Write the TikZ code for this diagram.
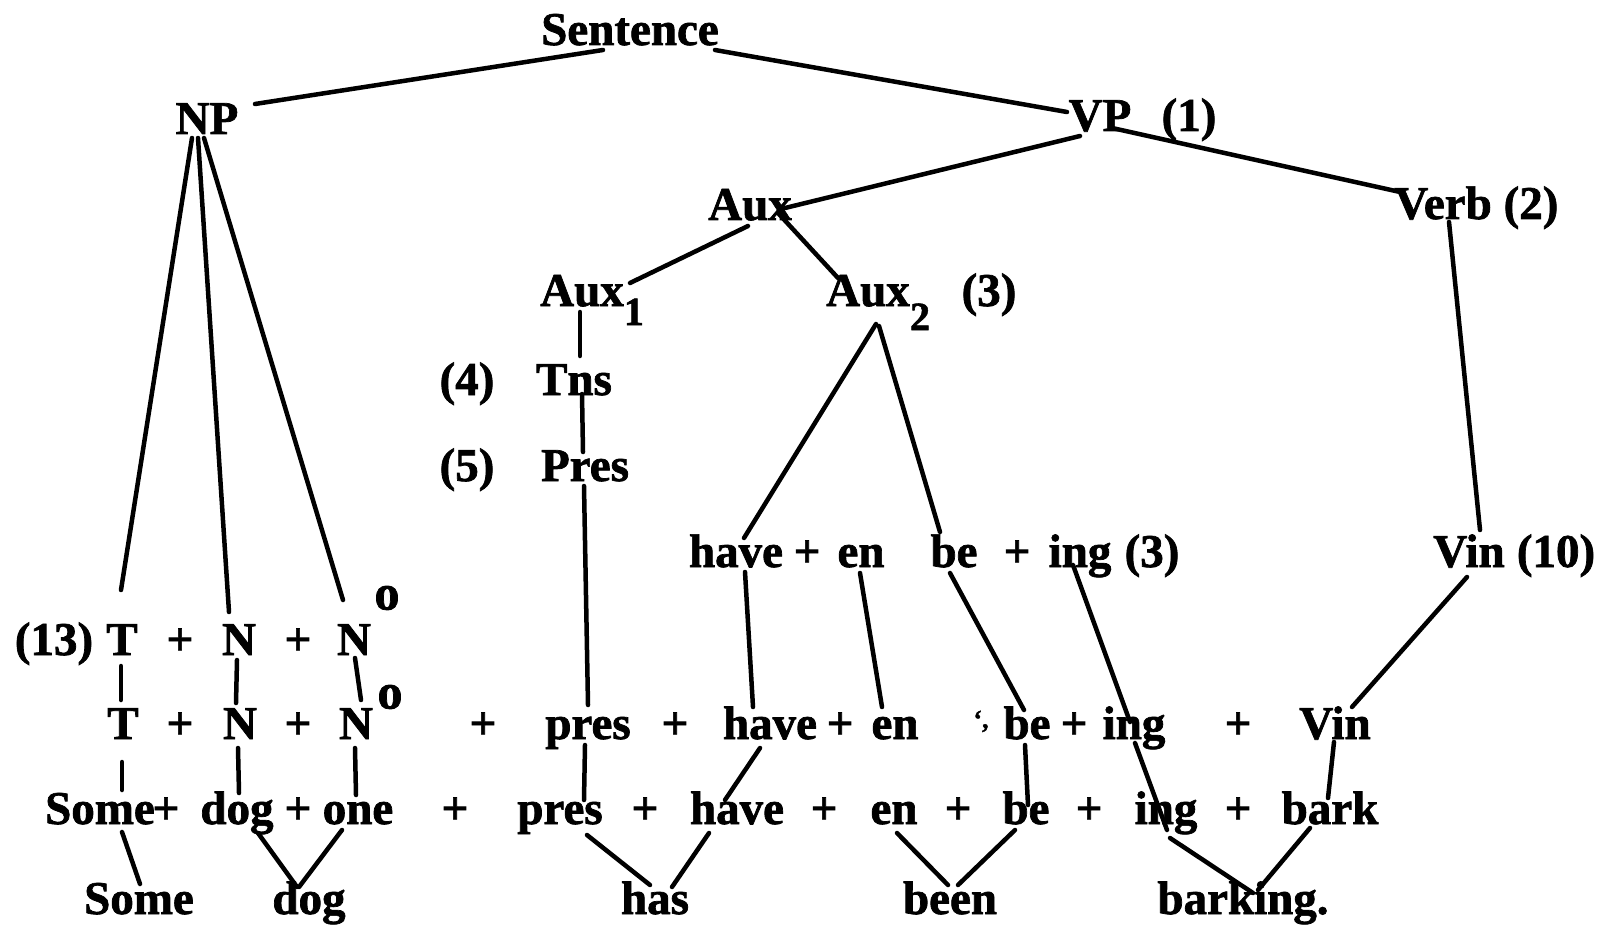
\documentclass[tikz,border=0pt]{standalone}
\usepackage{fontspec}
\setmainfont{Liberation Serif}[BoldFeatures={FakeBold=1.5}]
\newcommand\lnk[4]{\draw[conn] ([shift={#2}]#1.base) -- ([shift={#4}]#3.base);}
\begin{document}
\begin{tikzpicture}[x=1pt,y=-1pt,
  w/.style={anchor=base,inner sep=0pt,font=\bfseries\fontsize{47}{50}\selectfont},
  sub/.style={anchor=base,inner sep=0pt,font=\bfseries\fontsize{40}{44}\selectfont},
  sup/.style={anchor=center,inner sep=0pt,font=\bfseries\fontsize{50}{52}\selectfont},
  conn/.style={line width=4.5pt,line cap=round}]
\useasboundingbox (0,0) rectangle (1611,925);
% upper tree
\node[w] (S) at (630,45) {Sentence};
\node[w] (NP) at (207,134) {NP};
\node[w] (VP) at (1100,131) {VP};
\node[w] (VPn) at (1189,131) {(1)};
\node[w] (Aux) at (750,220) {Aux};
\node[w] (Verb) at (1443,219) {Verb};
\node[w] (Verbn) at (1531,219) {(2)};
\node[w] (AuxA) at (582,306) {Aux};
\node[sub] (AuxAs) at (634,325) {1};
\node[w] (AuxB) at (868,306) {Aux};
\node[sub] (AuxBs) at (920,330) {2};
\node[w] (AuxBn) at (989,306) {(3)};
\node[w] (n4) at (467,395) {(4)};
\node[w] (Tns) at (574,395) {Tns};
\node[w] (n5) at (467,481) {(5)};
\node[w] (Pres) at (585,481) {Pres};
% have + en be + ing row
\node[w] (hH) at (736,567) {have};
\node[w] (pH1) at (807,567) {+};
\node[w] (eH) at (861,567) {en};
\node[w] (bH) at (954,567) {be};
\node[w] (pH2) at (1017,567) {+};
\node[w] (iH) at (1080,567) {ing};
\node[w] (nH3) at (1152,567) {(3)};
\node[w] (vH) at (1469,567) {Vin};
\node[w] (nH10) at (1556,567) {(10)};
% row 1
\node[w] (r1n) at (54,655) {(13)};
\node[w] (T1) at (122,655) {T};
\node[w] (r1p1) at (180,655) {+};
\node[w] (N1) at (239,655) {N};
\node[w] (r1p2) at (298,655) {+};
\node[w] (O1) at (354,655) {N};
\node[sup] (O1s) at (387,598) {o};
% row 2
\node[w] (T2) at (123,739) {T};
\node[w] (r2p1) at (180,739) {+};
\node[w] (N2) at (240,739) {N};
\node[w] (r2p2) at (298,739) {+};
\node[w] (O2) at (356,739) {N};
\node[sup] (O2s) at (390,697) {o};
\node[w] (r2p3) at (483,739) {+};
\node[w] (pr2) at (588,739) {pres};
\node[w] (r2p4) at (675,739) {+};
\node[w] (hv2) at (770,739) {have};
\node[w] (r2p5) at (840,739) {+};
\node[w] (en2) at (895,739) {en};
\node[sub,font=\bfseries\fontsize{26}{28}\selectfont] (mk2) at (981,728) {‘,};
\node[w] (be2) at (1027,739) {be};
\node[w] (r2p6) at (1074,739) {+};
\node[w] (ing2) at (1134,739) {ing};
\node[w] (r2p7) at (1238,739) {+};
\node[w] (vin2) at (1335,739) {Vin};
% row 3
\node[w] (Some3) at (100,824) {Some};
\node[w] (r3p1) at (166,824) {+};
\node[w] (dog3) at (237,824) {dog};
\node[w] (r3p2) at (298,824) {+};
\node[w] (one3) at (358,824) {one};
\node[w] (r3p3) at (455,824) {+};
\node[w] (pr3) at (560,824) {pres};
\node[w] (r3p4) at (645,824) {+};
\node[w] (hv3) at (737,824) {have};
\node[w] (r3p5) at (824,824) {+};
\node[w] (en3) at (894,824) {en};
\node[w] (r3p6) at (958,824) {+};
\node[w] (be3) at (1026,824) {be};
\node[w] (r3p7) at (1089,824) {+};
\node[w] (ing3) at (1166,824) {ing};
\node[w] (r3p8) at (1238,824) {+};
\node[w] (bark3) at (1330,824) {bark};
% bottom row
\node[w] (Some4) at (139,914) {Some};
\node[w] (dog4) at (309,914) {dog};
\node[w] (has4) at (655,914) {has};
\node[w] (been4) at (950,914) {been};
\node[w] (bark4) at (1243,914) {barking.};
% connectors
\lnk{S}{(-27,5)}{NP}{(48,-30)}
\lnk{S}{(85,5)}{VP}{(-33,-19)}
\lnk{VP}{(-20,5)}{Aux}{(35,-12)}
\lnk{VP}{(12,-3)}{Verb}{(-43,-27)}
\lnk{Aux}{(-2,6)}{AuxA}{(48,-23)}
\lnk{Aux}{(28,-7)}{AuxB}{(-30,-28)}
\lnk{AuxA}{(-2,6)}{Tns}{(6,-39)}
\lnk{Tns}{(8,-1)}{Pres}{(-2,-29)}
\lnk{Pres}{(-1,5)}{pr2}{(0,-34)}
\lnk{pr2}{(-3,6)}{pr3}{(24,-24)}
\lnk{AuxB}{(8,18)}{hH}{(8,-29)}
\lnk{AuxB}{(11,20)}{bH}{(-14,-35)}
\lnk{Verb}{(6,3)}{vH}{(11,-37)}
\lnk{hH}{(9,5)}{hv2}{(-17,-32)}
\lnk{eH}{(-1,6)}{en2}{(-13,-32)}
\lnk{bH}{(-4,6)}{be2}{(-3,-29)}
\lnk{iH}{(-7,-2)}{ing2}{(-4,-17)}
\lnk{ing2}{(1,4)}{ing3}{(1,6)}
\lnk{ing3}{(4,14)}{bark4}{(10,-21)}
\lnk{bark3}{(-20,4)}{bark4}{(15,-24)}
\lnk{vH}{(-2,10)}{vin2}{(17,-32)}
\lnk{vin2}{(-1,3)}{bark3}{(-2,-26)}
\lnk{be2}{(-2,6)}{be3}{(2,-19)}
\lnk{hv2}{(-10,9)}{hv3}{(-12,-24)}
\lnk{en3}{(3,9)}{been4}{(-2,-29)}
\lnk{be3}{(-11,6)}{been4}{(8,-29)}
\lnk{pr3}{(27,11)}{has4}{(-5,-29)}
\lnk{hv3}{(-28,9)}{has4}{(17,-27)}
\lnk{Some3}{(22,8)}{Some4}{(1,-30)}
\lnk{dog3}{(21,9)}{dog4}{(-12,-27)}
\lnk{one3}{(-16,6)}{dog4}{(-10,-27)}
\lnk{T2}{(-1,23)}{Some3}{(22,-34)}
\lnk{N2}{(-2,9)}{dog3}{(2,-31)}
\lnk{O2}{(-1,9)}{one3}{(-2,-29)}
\lnk{T1}{(-1,11)}{T2}{(-2,-39)}
\lnk{N1}{(-2,5)}{N2}{(-4,-36)}
\lnk{O1}{(1,3)}{O2}{(5,-39)}
\lnk{NP}{(-15,4)}{T1}{(-1,-65)}
\lnk{NP}{(-9,4)}{N1}{(-10,-43)}
\lnk{NP}{(-3,4)}{O1}{(-11,-55)}
\end{tikzpicture}
\end{document}
